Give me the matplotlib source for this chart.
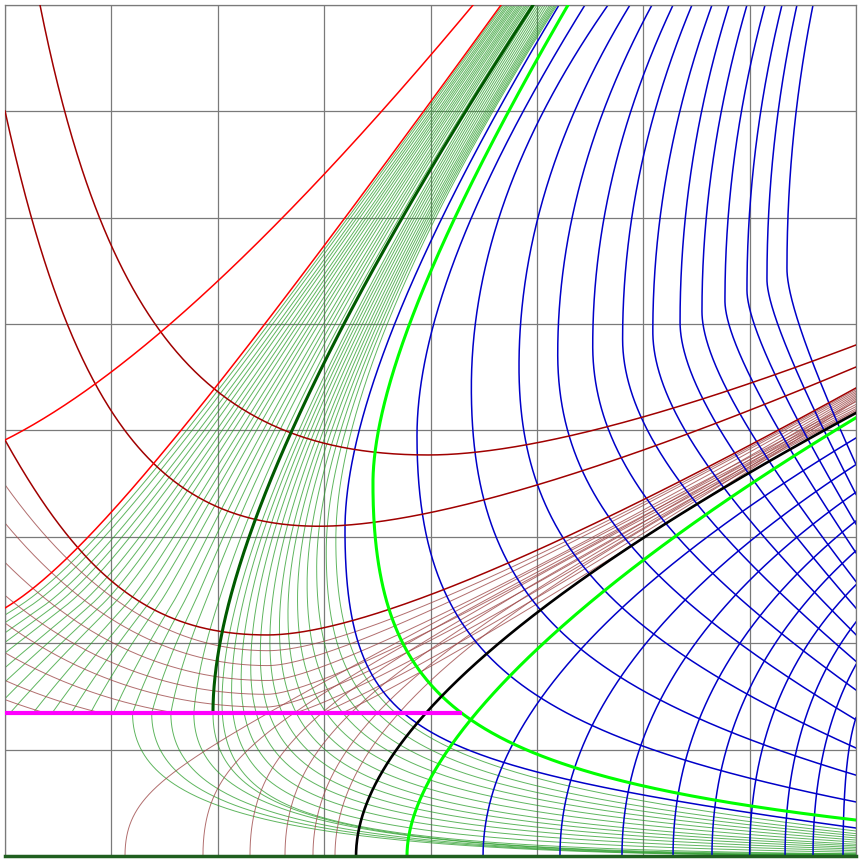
import numpy as np
import matplotlib
matplotlib.use('Agg')
import matplotlib.pyplot as plt
from matplotlib.patches import Polygon

# ---- values (axis units, 0..8 both ways) ----

# blue C curves (index 1 is the lime one): top x, top slope dx/dy, leftmost point, right-edge y, right slope dy/dx
c_top = [5.208, 5.293, 5.452, 5.669, 5.875, 6.082, 6.280, 6.458, 6.646, 6.806, 6.975, 7.145, 7.304, 7.445, 7.596]
c_top_slope = [0.60, 0.58, 0.62, 0.70, 0.61, 0.54, 0.47, 0.415, 0.36, 0.31, 0.29, 0.27, 0.245, 0.22, 0.20]
c_vx = [3.196, 3.459, 3.873, 4.384, 4.832, 5.196, 5.525, 5.806, 6.09, 6.346, 6.552, 6.768, 6.975, 7.163, 7.351]
c_vy = [3.07, 3.50, 3.95, 4.40, 4.60, 4.72, 4.80, 4.86, 4.93, 5.02, 5.12, 5.22, 5.32, 5.42, 5.52]
c_right = [0.263, 0.338, 0.508, 0.76, 1.015, 1.28, 1.56, 1.83, 2.08, 2.33, 2.58, 2.85, 3.12, 3.40, 3.68]
c_right_slope = [-0.137, -0.117, -0.2, -0.3, -0.45, -0.6, -0.72, -0.86, -1.0, -1.15, -1.3, -1.5, -1.7, -1.95, -2.2]
c_wlo = [2.0, 1.5, 1.4, 1.3, 1.25, 1.2, 1.15, 1.1, 1.1, 1.05, 1.05, 1.0, 1.0, 1.0, 1.0]

# green fan, between dark green and first blue
gr_top = [4.98, 5.00, 5.02, 5.04, 5.06, 5.08, 5.10, 5.12, 5.135, 5.15, 5.165, 5.178, 5.19]
gr_vx = [2.04, 2.13, 2.22, 2.31, 2.40, 2.49, 2.58, 2.66, 2.75, 2.84, 2.93, 3.02, 3.11]
gr_vy = [1.44, 1.55, 1.66, 1.78, 1.90, 2.02, 2.15, 2.28, 2.42, 2.56, 2.71, 2.86, 2.97]
gr_right = [0.02, 0.035, 0.05, 0.065, 0.08, 0.095, 0.11, 0.13, 0.15, 0.17, 0.19, 0.21, 0.235]

# green fan between the left red line and dark green: share of the way across
gl_share = [0.05, 0.10, 0.16, 0.21, 0.26, 0.32, 0.37, 0.42, 0.47, 0.53, 0.58, 0.63, 0.68, 0.74,
            0.79, 0.84, 0.89, 0.95]
gl_right = [0.004, 0.007, 0.010, 0.013, 0.016, 0.019]

# dark green curve: top, top slope, start on the magenta line
dg_top, dg_top_slope, dg_vx, dg_vy = 4.964, 0.65, 1.955, 1.344

# brown arcs coming in from the left edge
bl_left = [3.49, 3.13, 2.76, 2.45, 2.19, 1.91, 1.65, 1.47]
bl_left_slope = [-1.4, -1.2, -1.0, -0.84, -0.72, -0.57, -0.44, -0.37]
bl_bx = [2.47, 2.47, 2.47, 2.46, 2.45, 2.43, 2.41, 2.39]
bl_by = [1.93, 1.79, 1.65, 1.52, 1.40, 1.28, 1.17, 1.07]
bl_right = [4.385, 4.37, 4.355, 4.34, 4.325, 4.31, 4.295, 4.28]

# brown curves rising from the bottom edge
bb_foot = [1.128, 1.861, 2.303, 2.632, 2.895, 3.102]
bb_right = [4.27, 4.245, 4.225, 4.205, 4.19, 4.178]
bb_w = [3.0, 2.5, 2.1, 1.7, 1.4, 1.2]

# blue curves rising from the bottom edge
s_foot = [4.494, 5.217, 5.800, 6.280, 6.646, 7.000, 7.333, 7.596, 7.878]
s_right = [3.93, 3.68, 3.42, 3.15, 2.87, 2.55, 2.20, 1.80, 1.30]
s_slope = [0.60, 0.65, 0.70, 0.80, 0.90, 1.00, 1.30, 1.80, 3.00]

# black and second lime curve: foot, right-edge y, right slope
black_foot, black_right, black_slope = 3.30, 4.165, 0.54
lime2_foot, lime2_right, lime2_slope = 3.779, 4.12, 0.60

# red curves: (end point, slope there), lowest point, right-edge y, right slope
red_arcs = [((0.329, 8.0), -5.0, (3.977, 3.77), 4.804, 0.38),
            ((0.0, 7.004), -4.57, (2.95, 3.10), 4.597, 0.42),
            ((0.0, 3.911), -1.8, (2.463, 2.078), 4.40, 0.55)]
# red lines: left-edge y, slope, top x, top slope
red_lines = [(3.911, 0.5, 4.40, 1.2), (2.331, 0.6, 4.663, 1.38)]

magenta_y, magenta_end = 1.344, 4.296


def conic(p0, p1, p2, w=1.0, n=300):
    t = np.linspace(0, 1, n)[:, None]
    a, b, c = (1 - t) ** 2, 2 * w * t * (1 - t), t ** 2
    p = (a * np.asarray(p0) + b * np.asarray(p1) + c * np.asarray(p2)) / (a + b + c)
    return p[:, 0], p[:, 1]


def c_curve(xt, mt, xv, yv, yr=None, mr=0.0, wlo=1.0):
    x, y = conic((xv, yv), (xv, 8 - (xt - xv) / mt), (xt, 8))
    if yr is not None:
        x0, y0 = conic((xv, yv), (xv, yr - mr * (8 - xv)), (8, yr), wlo)
        x, y = np.r_[x0[::-1], x], np.r_[y0[::-1], y]
    return x, y


def foot_curve(xf, yr, sr, w=1.0):
    return conic((xf, 0), (xf, yr - sr * (8 - xf)), (8, yr), w)


def u_curve(a, sa, b, yr, sr, wl=1.0, wr=1.0):
    bx, by = b
    xl = a[0] + (by - a[1]) / sa
    sr = max(sr, 1.15 * (yr - by) / (8 - bx))
    xr = 8 - (yr - by) / sr
    x0, y0 = conic(a, (xl, by), b, wl)
    x1, y1 = conic(b, (xr, by), (8, yr), wr)
    return np.r_[x0, x1], np.r_[y0, y1]


def edge_curve(yl, sl, xt, st, w=1.0):
    xc = (8 - st * xt - yl) / (sl - st)
    return conic((0, yl), (xc, yl + sl * xc), (xt, 8), w)


fig = plt.figure(figsize=(8.63, 8.63), dpi=100)
ax = fig.add_axes([5 / 863, 7 / 863, 851 / 863, 851 / 863])
ax.set_xlim(0, 8)
ax.set_ylim(0, 8)
ax.set_xticks(range(9))
ax.set_yticks(range(9))
ax.tick_params(length=0, labelbottom=False, labelleft=False)
ax.grid(True, color='#7a7a7a', lw=0.9)
ax.set_axisbelow(True)
for s in ax.spines.values():
    s.set_color('#7a7a7a')
    s.set_linewidth(0.9)

thin_green = dict(color='#2a9d2a', lw=0.7, alpha=0.75, zorder=1)
thin_brown = dict(color='#9e4a4a', lw=0.7, alpha=0.8, zorder=1)
blue = dict(color='#0000c8', lw=1.1, zorder=2)

# region above the magenta line (everything right of its end)
above = Polygon([(-1, magenta_y), (magenta_end, magenta_y), (magenta_end, -1), (9, -1), (9, 9), (-1, 9)],
                closed=True, transform=ax.transData)

# the two curves the left half of the green fan sits between
l2x, l2y = edge_curve(*red_lines[1], 1.3)
dgx, dgy = c_curve(dg_top, dg_top_slope, dg_vx, dg_vy)
yy = np.linspace(magenta_y, 8, 300)
x_left = np.where(yy < red_lines[1][0], (yy - red_lines[1][0]) / red_lines[1][1], np.interp(yy, l2y, l2x))
x_dg = np.interp(yy, dgy, dgx)

k = 0
for a in gl_share:
    xs = (1 - a) * x_left + a * x_dg
    ax.plot(xs, yy, **thin_green)
    if xs[0] > 1.05:
        ax.plot(*conic((xs[0], magenta_y), (xs[0], gl_right[k]), (8, gl_right[k]), 1.3), **thin_green)
        k += 1
for i in range(len(gr_top)):
    ax.plot(*c_curve(gr_top[i], 0.63, gr_vx[i], gr_vy[i], gr_right[i], -0.5 * gr_right[i], 1.7),
            **thin_green)
# lower part of the dark green one, below the magenta line
ax.plot(*conic((dg_vx, dg_vy), (dg_vx, 0.021), (8, 0.021), 1.4), **thin_green)

# brown fan
for i in range(len(bl_left)):
    ln, = ax.plot(*u_curve((0, bl_left[i]), bl_left_slope[i], (bl_bx[i], bl_by[i]), bl_right[i], 0.55),
                  **thin_brown)
    ln.set_clip_path(above)
for i in range(len(bb_foot)):
    ax.plot(*foot_curve(bb_foot[i], bb_right[i], 0.52, bb_w[i]), **thin_brown)

# blue C curves
for i in range(len(c_top)):
    xy = c_curve(c_top[i], c_top_slope[i], c_vx[i], c_vy[i], c_right[i], c_right_slope[i], c_wlo[i])
    if i == 1:
        ax.plot(*xy, color='#00ff00', lw=2.2, zorder=4)
    else:
        ax.plot(*xy, **blue)

# blue curves from the bottom
for i in range(len(s_foot)):
    ax.plot(*foot_curve(s_foot[i], s_right[i], s_slope[i]), **blue)

# red curves
for a, sa, b, yr, sr in red_arcs:
    ax.plot(*u_curve(a, sa, b, yr, sr, 1.2), color='#a00000', lw=1.1, zorder=3)
ax.plot(*edge_curve(*red_lines[0]), color='#ff0000', lw=1.1, zorder=3)
ax.plot(l2x, l2y, color='#ff0000', lw=1.1, zorder=3)

# thick curves
ax.plot(*foot_curve(lime2_foot, lime2_right, lime2_slope, 0.9), color='#00ff00', lw=2.2, zorder=4)
ax.plot(*foot_curve(black_foot, black_right, black_slope), color='black', lw=1.9, zorder=4)
ax.plot(dgx, dgy, color='#005a00', lw=2.2, zorder=4)
ax.plot([0, magenta_end], [magenta_y, magenta_y], color='#ff00ff', lw=3.0, zorder=5,
        solid_capstyle='butt')
ax.plot([0, 8], [0, 0], color='#1f5f1f', lw=2.5, zorder=5, clip_on=False)

fig.savefig('out.png', dpi=100)
